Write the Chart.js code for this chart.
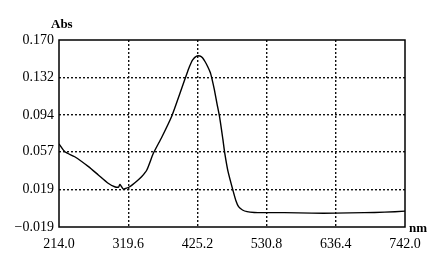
<!DOCTYPE html>
<html>
<head>
<meta charset="utf-8">
<script src="https://cdn.jsdelivr.net/npm/chart.js@4/dist/chart.umd.min.js"></script>
<style>
  html, body { margin: 0; padding: 0; background: #fff; }
  #wrap { width: 437px; height: 262px; }
</style>
</head>
<body>
<div id="wrap"><canvas id="specChart"></canvas></div>
<script>
// Spectrum (wavelength nm, absorbance)
const wavelengths = [214, 223, 238, 259, 274, 289, 299, 305, 307, 312, 316, 322, 333, 340, 348, 358, 371, 386, 399, 407, 413, 418, 424, 429, 433, 437, 441, 445, 447, 451, 455, 459, 464, 467, 472, 480, 484, 488, 494, 501, 512, 526, 558, 600, 635, 680, 711, 742];
const absorbance  = [0.065, 0.057, 0.052, 0.042, 0.0336, 0.0252, 0.0217, 0.0214, 0.024, 0.0194, 0.0200, 0.0217, 0.0275, 0.0318, 0.0386, 0.0555, 0.072, 0.093, 0.117, 0.132, 0.143, 0.150, 0.1538, 0.1538, 0.152, 0.148, 0.143, 0.137, 0.132, 0.120, 0.106, 0.0925, 0.070, 0.0555, 0.037, 0.0167, 0.0075, 0.0015, -0.0018, -0.0035, -0.0043, -0.0045, -0.0045, -0.005, -0.005, -0.0045, -0.004, -0.003];

const xTicks = [214.0, 319.6, 425.2, 530.8, 636.4, 742.0];
const yTicks = [-0.019, 0.019, 0.057, 0.094, 0.132, 0.170];

const serif = '"Liberation Serif", "DejaVu Serif", serif';

// Frame around the plot plus the "Abs" / "nm" labels
const framePlugin = {
    id: 'frame',
    afterDraw(chart) {
        const { ctx, chartArea: a } = chart;
        ctx.save();
        ctx.strokeStyle = '#000';
        ctx.lineWidth = 1.5;
        ctx.strokeRect(a.left, a.top, a.right - a.left, a.bottom - a.top);
        ctx.fillStyle = '#000';
        ctx.font = 'bold 13px ' + serif;
        ctx.textBaseline = 'middle';
        ctx.textAlign = 'left';
        ctx.fillText('Abs', 51, 25);
        ctx.fillText('nm', 409, 229);
        ctx.restore();
    }
};

function isEdge(v, list) {
    return Math.abs(v - list[0]) < 1e-6 || Math.abs(v - list[list.length - 1]) < 1e-6;
}

const points = wavelengths.map((w, i) => ({ x: w, y: absorbance[i] }));

new Chart(document.getElementById('specChart'), {
    type: 'line',
    data: {
        datasets: [{
            data: points,
            borderColor: '#000',
            borderWidth: 1.4,
            pointRadius: 0,
            tension: 0.2
        }]
    },
    options: {
        responsive: true,
        maintainAspectRatio: false,
        animation: false,
        layout: { padding: { top: 40, right: 32, left: 0, bottom: 0 } },
        plugins: { legend: { display: false }, tooltip: { enabled: false } },
        scales: {
            x: {
                type: 'linear',
                min: 214,
                max: 742,
                afterBuildTicks(scale) { scale.ticks = xTicks.map(v => ({ value: v })); },
                afterFit(scale) { scale.height = 35; },
                ticks: {
                    color: '#000',
                    font: { family: serif, size: 14 },
                    padding: 9,
                    maxRotation: 0,
                    callback: v => v.toFixed(1)
                },
                grid: {
                    drawTicks: false,
                    lineWidth: 1.4,
                    color: ctx => isEdge(ctx.tick.value, xTicks) ? 'rgba(0,0,0,0)' : '#111'
                },
                border: { display: false, dash: [2, 2] }
            },
            y: {
                min: -0.019,
                max: 0.170,
                afterBuildTicks(scale) { scale.ticks = yTicks.map(v => ({ value: v })); },
                afterFit(scale) { scale.width = 59; },
                ticks: {
                    color: '#000',
                    font: { family: serif, size: 14 },
                    padding: 5,
                    callback: v => (v < 0 ? '\u2212' : '') + Math.abs(v).toFixed(3)
                },
                grid: {
                    drawTicks: false,
                    lineWidth: 1.4,
                    color: ctx => isEdge(ctx.tick.value, yTicks) ? 'rgba(0,0,0,0)' : '#111'
                },
                border: { display: false, dash: [2, 2] }
            }
        }
    },
    plugins: [framePlugin]
});
</script>
</body>
</html>
